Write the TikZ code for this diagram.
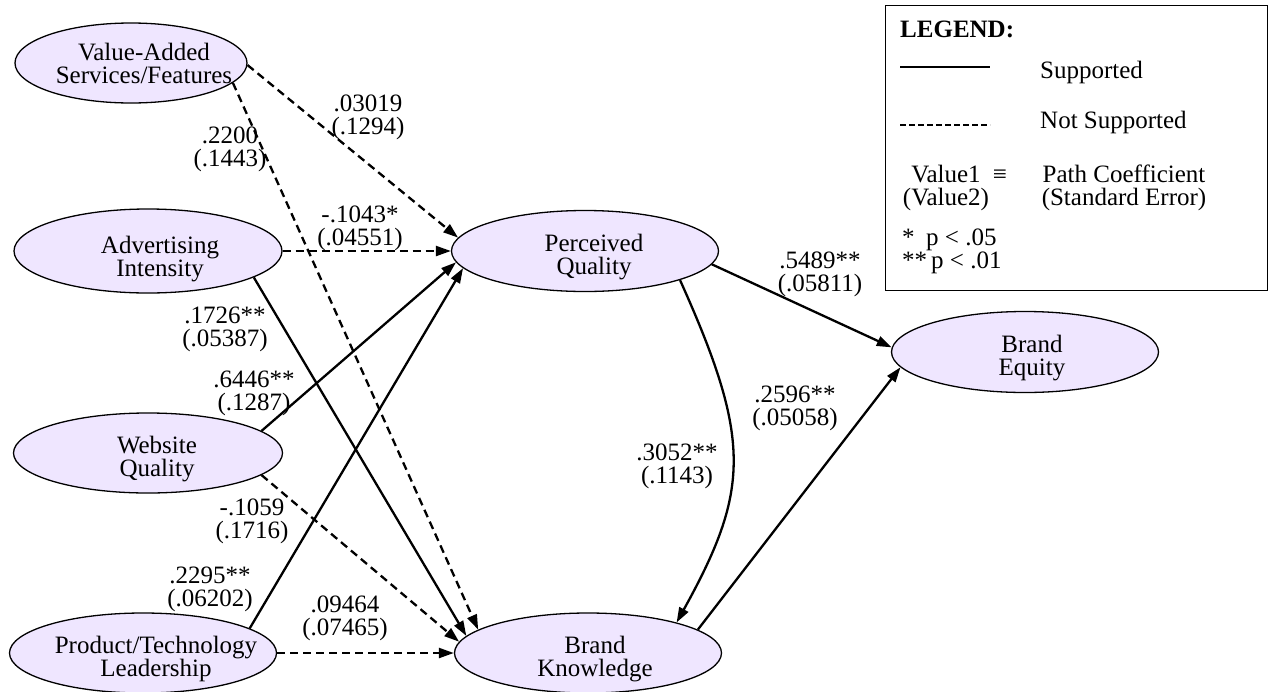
\documentclass[tikz,border=0pt]{standalone}
\usepackage{fontspec}
\setmainfont{Liberation Serif}
\usetikzlibrary{shapes.geometric,arrows.meta}
\definecolor{ellfill}{RGB}{239,230,255}
\newcommand\elltext[3]{\makebox[0pt]{\raisebox{#2}[0pt][0pt]{\hspace*{#1}\begin{tabular}[t]{@{}c@{}}#3\end{tabular}}}}
\newcommand\twoline[1]{\begin{tabular}[t]{@{}c@{}}#1\end{tabular}}
\begin{document}
\begin{tikzpicture}[x=1pt,y=-1pt,
  font=\fontsize{25}{22}\selectfont,
  lat/.style={ellipse, draw, line width=1.3pt, fill=ellfill, inner sep=0pt,
              minimum width=267pt, minimum height=80pt},
  supp/.style={line width=2.3pt, -{Triangle[length=15pt,width=10pt]}},
  nsupp/.style={supp, dash pattern=on 8pt off 5pt},
  lab/.style={anchor=base, inner sep=0pt},
  leg/.style={anchor=base west, inner sep=0pt},
]
\useasboundingbox (0,0) rectangle (1277,691);

% latent variables
\node[lat, minimum width=232pt] (va) at (131,63) {\elltext{26pt}{3pt}{Value-Added\\Services/Features}};
\node[lat, minimum width=268pt, minimum height=84pt] (ai) at (148,251) {\elltext{24pt}{-2pt}{Advertising\\Intensity}};
\node[lat, minimum width=269pt] (wq) at (148,453) {\elltext{18pt}{0pt}{Website\\Quality}};
\node[lat] (pt) at (143,653) {\elltext{26pt}{0pt}{Product/Technology\\Leadership}};
\node[lat, minimum height=81pt] (pq) at (585,251) {\elltext{18pt}{0pt}{Perceived\\Quality}};
\node[lat] (bk) at (588,653) {\elltext{14pt}{0pt}{Brand\\Knowledge}};
\node[lat, minimum height=81pt] (be) at (1025,352) {\elltext{14pt}{0pt}{Brand\\Equity}};

% paths
\draw[nsupp] (va.359) -- (pq.174);
\draw[nsupp] (va.349) -- (bk.168);
\draw[nsupp] (ai.0) -- (pq.180);
\draw[supp] (ai.346) -- (bk.172);
\draw[supp] (wq.11) -- (pq.185);
\draw[nsupp] (wq.349) -- (bk.175);
\draw[supp] (pt.13.5) -- (pq.188);
\draw[nsupp] (pt.0) -- (bk.180);
\draw[supp] (pq.354) -- (be.178);
\draw[supp] (pq.343) .. controls (752,440) and (750,490) .. (bk.19);
\draw[supp] (bk.12.6) -- (be.187);

% path labels
\node[lab] (l1) at (368,111) {\twoline{.03019\\(.1294)}};
\node[lab] (l2) at (230,143) {\twoline{.2200\\(.1443)}};
\node[lab] (l3) at (360,222) {\twoline{-.1043*\\(.04551)}};
\node[lab] (l4) at (225,323) {\twoline{.1726**\\(.05387)}};
\node[lab] (l5) at (254,387) {\twoline{.6446**\\(.1287)}};
\node[lab] (l6) at (252,515) {\twoline{-.1059\\(.1716)}};
\node[lab] (l7) at (210,583) {\twoline{.2295**\\(.06202)}};
\node[lab] (l8) at (345,612) {\twoline{.09464\\(.07465)}};
\node[lab] (l9) at (820,268) {\twoline{.5489**\\(.05811)}};
\node[lab] (l10) at (677,460) {\twoline{.3052**\\(.1143)}};
\node[lab] (l11) at (795,402) {\twoline{.2596**\\(.05058)}};

% legend
\node[draw, rectangle, line width=1.3pt, anchor=north west, inner sep=0pt,
      minimum width=382pt, minimum height=285pt] (legend) at (885,5) {};
\node[leg, font=\bfseries\fontsize{25}{22}\selectfont] (legtitle) at (900,37) {LEGEND:};
\coordinate (s1) at (900,67); \coordinate (s2) at (990,67);
\draw[line width=2pt] (s1) -- (s2);
\node[leg] (legsup) at (1040,78) {Supported};
\coordinate (d1) at (900,125); \coordinate (d2) at (990,125);
\draw[line width=1.7pt, dash pattern=on 5.5pt off 3.5pt] (d1) -- (d2);
\node[leg] (legnsup) at (1040,128) {Not Supported};
\node[lab] (legval) at (946,182) {\twoline{Value1\\(Value2)}};
\node[lab] (legeq) at (1000,182) {≡};
\node[lab] (legpath) at (1124,182) {\twoline{Path Coefficient\\(Standard Error)}};
\node[leg] (legp) at (902,245) {\begin{tabular}[t]{@{}l@{}}\makebox[24pt][l]{*}p < .05\\{}**\hspace{4pt}p < .01\end{tabular}};
\end{tikzpicture}
\end{document}
